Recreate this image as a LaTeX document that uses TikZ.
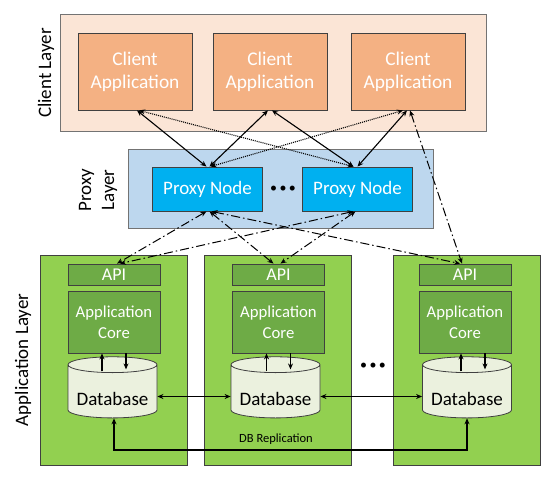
\documentclass[tikz,border=0pt]{standalone}
\usepackage{fontspec}
\setmainfont{Carlito}
\usetikzlibrary{shapes.geometric,arrows.meta}
\definecolor{clientbg}{HTML}{FBE5D6}
\definecolor{clientfg}{HTML}{F4B183}
\definecolor{proxybg}{HTML}{BDD7EE}
\definecolor{proxyfg}{HTML}{00B0F0}
\definecolor{appbg}{HTML}{92D050}
\definecolor{appfg}{HTML}{6EAB46}
\definecolor{dbfg}{HTML}{EBF1DE}
\tikzstyle{layer} = [rectangle, draw=black!55, line width=0.9pt]
\tikzstyle{client} = [rectangle, minimum width=114pt, minimum height=77pt, align=center, draw=black!75, line width=0.8pt, fill=clientfg, text=white, font=\fontsize{19.4}{23}\selectfont]
\tikzstyle{proxy} = [rectangle, minimum width=110pt, minimum height=44pt, draw=black!75, line width=0.8pt, fill=proxyfg, text=white, font=\fontsize{19}{23}\selectfont]
\tikzstyle{app} = [rectangle, minimum width=147pt, minimum height=210pt, draw=black!75, line width=0.9pt, fill=appbg]
\tikzstyle{api} = [rectangle, minimum width=92pt, minimum height=21pt, inner sep=0pt, draw=black!75, line width=0.8pt, fill=appfg, text=white, font=\fontsize{18}{20}\selectfont]
\tikzstyle{core} = [rectangle, minimum width=92pt, minimum height=62pt, align=center, draw=black!75, line width=0.8pt, fill=appfg, text=white, font=\fontsize{16.7}{21}\selectfont]
\tikzstyle{db} = [cylinder, shape border rotate=90, aspect=0.22, minimum width=89pt, minimum height=61pt, inner sep=0pt, text height=32pt, text depth=5pt, draw=black!75, line width=0.8pt, fill=dbfg, font=\fontsize{19}{22}\selectfont]
\tikzstyle{layername} = [rotate=90, align=center, font=\fontsize{19}{23}\selectfont]
\tikzstyle{dots} = [font=\fontsize{14}{14}\selectfont]
\tikzstyle{arrow} = [line width=1.1pt,<->,>={Stealth[length=6pt,width=5pt]}]
\tikzstyle{link} = [line width=1.1pt,->,>={Stealth[length=6pt,width=5pt]}]
\tikzstyle{dottedarrow} = [line width=1.1pt,<->,>={Stealth[length=6pt,width=5pt]},dash pattern=on 1pt off 1pt]
\tikzstyle{dasharrow} = [line width=1pt,<->,>={Stealth[length=6pt,width=5pt]},dash pattern=on 9pt off 3pt on 1.5pt off 3pt]

\begin{document}
\begin{tikzpicture}[x=1pt,y=-1pt]
\useasboundingbox (0,0) rectangle (560,485);

% layers
\node (clientlayer) [layer, fill=clientbg, minimum width=426pt, minimum height=117pt] at (273,72.5) {};
\node (proxylayer) [layer, fill=proxybg, minimum width=305pt, minimum height=79pt] at (280.5,188.5) {};
\node (clientname) [layername] at (46,73) {Client Layer};
\node (proxyname) [layername] at (98,190) {Proxy\\Layer};
\node (appname) [layername] at (23,360) {Application Layer};

% client applications
\node (client1) [client] at (135,71.5) {Client\\Application};
\node (client2) [client] at (270,71.5) {Client\\Application};
\node (client3) [client] at (408,71.5) {Client\\Application};

% proxies
\node (proxy1) [proxy] at (207.5,189) {Proxy Node};
\node (proxy2) [proxy] at (357.5,189) {Proxy Node};
\node (proxydots) [dots] at (283,189) {\textbullet\,\textbullet\,\textbullet};

% application servers
\node (app1) [app] at (114,360) {};
\node (app2) [app] at (277.5,360) {};
\node (app3) [app] at (466.5,360) {};
\node (api1) [api] at (114,274.5) {API};
\node (api2) [api] at (278.5,274.5) {API};
\node (api3) [api] at (465,274.5) {API};
\node (core1) [core] at (114,322) {Application\\Core};
\node (core2) [core] at (278.5,322) {Application\\Core};
\node (core3) [core] at (465,322) {Application\\Core};
\node (db1) [db] at (112.5,391.5) {Database};
\node (db2) [db] at (275.5,391.5) {Database};
\node (db3) [db] at (467,391.5) {Database};
\node (appdots) [dots] at (373,366) {\textbullet\,\textbullet\,\textbullet};
\node (replabel) [font=\fontsize{12.5}{14}\selectfont] at (276,439) {DB Replication};
\coordinate (replow) at (276,450);

% client - proxy
\draw [arrow] ([xshift=2pt]client1.south) -- ([xshift=-1pt]proxy1.north);
\draw [arrow] ([xshift=-2pt]client2.south) -- ([xshift=2pt]proxy1.north);
\draw [arrow] ([xshift=2pt]client2.south) -- ([xshift=-4pt]proxy2.north);
\draw [arrow] ([xshift=-1pt]client3.south) -- ([xshift=0pt]proxy2.north);
\draw [dottedarrow] ([xshift=4pt]client1.south) -- ([xshift=-4pt]proxy2.north);
\draw [dottedarrow] ([xshift=-5pt]client3.south) -- ([xshift=3pt]proxy1.north);
\draw [dasharrow] ([xshift=2pt]client3.south) -- ([xshift=-3pt]api3.north);

% proxy - api
\draw [dasharrow] ([xshift=-1pt]proxy1.south) -- ([xshift=3pt]api1.north);
\draw [dasharrow] ([xshift=-4pt]proxy2.south) -- ([xshift=6pt]api1.north);
\draw [dasharrow] ([xshift=2pt]proxy1.south) -- ([xshift=-5pt]api2.north);
\draw [dasharrow] ([xshift=-2pt]proxy2.south) -- ([xshift=2pt]api2.north);
\draw [dasharrow] ([xshift=4pt]proxy1.south) -- ([xshift=-5pt]api3.north);

% core - database
\draw [link] ([xshift=-12pt,yshift=-18pt]core1.south) -- ([xshift=-12pt]core1.south);
\draw [link] ([xshift=12pt]core1.south) -- ([xshift=12pt,yshift=-16pt]core1.south);
\draw [link] ([xshift=-12pt,yshift=-18pt]core2.south) -- ([xshift=-12pt]core2.south);
\draw [link] ([xshift=12pt]core2.south) -- ([xshift=12pt,yshift=-16pt]core2.south);
\draw [link] ([xshift=-4pt,yshift=-18pt]core3.south) -- ([xshift=-4pt]core3.south);
\draw [link] ([xshift=20pt]core3.south) -- ([xshift=20pt,yshift=-16pt]core3.south);

% replication
\draw [arrow] ([yshift=-5pt]db1.east) -- ([yshift=-5pt]db2.west);
\draw [arrow] ([yshift=-5pt]db2.east) -- ([yshift=-5pt]db3.west);
\draw [arrow] ([xshift=1.5pt]db1.south) |- (replow) -| (db3.south);
\end{tikzpicture}
\end{document}
